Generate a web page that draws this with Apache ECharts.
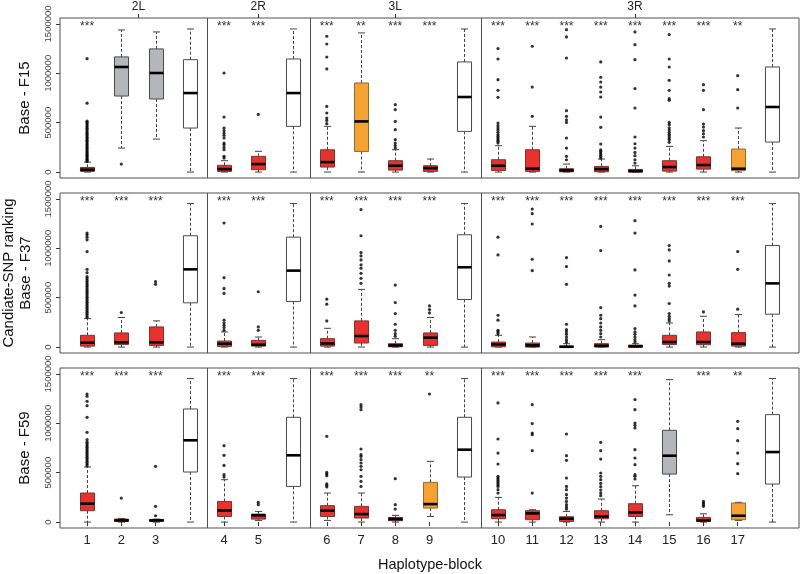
<!DOCTYPE html>
<html>
<head>
<meta charset="utf-8">
<script src="https://cdn.jsdelivr.net/npm/echarts@6/dist/echarts.min.js"></script>
<style>html,body{margin:0;padding:0;background:#fff}#c{width:800px;height:574px}</style>
</head>
<body>
<div id="c"></div>
<script>
// ---------------- data ----------------
const blockLabels = ['1','2','3','','4','5','','6','7','8','9','','10','11','12','13','14','15','16','17',''];
const chromosomes = ['2L','2R','3L','3R'];
const chromSizes = [4, 3, 5, 9];
const rowNames = ['Base - F15','Base - F37','Base - F59'];
const yTicks = [0, 500000, 1000000, 1500000];

// box stats: [lowWhisker, q1, median, q3, highWhisker]
const boxesF15 = [
  [0,7000,24000,47000,101000],[243000,770000,1064000,1166000,1439000],[334000,740000,1003000,1247000,1419000],[0,446000,800000,1138000,1449000],
  [0,7000,30000,68000,115000],[0,24000,81000,159000,210000],[0,463000,800000,1145000,1449000],
  [0,51000,101000,226000,463000],[0,209000,513000,902000,1409000],[0,20000,64000,115000,226000],[0,7000,40000,64000,132000],[0,412000,760000,1115000,1449000],
  [0,17000,64000,125000,267000],[0,7000,34000,226000,463000],[0,3000,17000,34000,81000],[0,3000,30000,57000,132000],[0,0,10000,27000,64000],
  [0,10000,51000,115000,260000],[0,30000,71000,155000,318000],[0,14000,34000,233000,446000],[0,304000,659000,1064000,1449000]
];
const boxesF37 = [
  [0,10000,44000,119000,288000],[0,27000,48000,143000,299000],[0,17000,48000,204000,265000],[0,448000,787000,1127000,1453000],
  [0,7000,34000,61000,153000],[0,10000,24000,68000,102000],[0,462000,774000,1113000,1453000],
  [0,10000,37000,85000,190000],[0,41000,112000,265000,584000],[0,3000,17000,34000,85000],[0,17000,95000,143000,299000],[0,482000,808000,1137000,1453000],
  [0,3000,27000,51000,119000],[0,0,17000,41000,102000],[0,0,3000,10000,34000],[0,0,14000,34000,75000],[0,0,7000,20000,34000],
  [0,27000,51000,119000,244000],[0,24000,51000,153000,312000],[0,10000,34000,146000,329000],[0,333000,645000,1028000,1453000]
];
const boxesF59 = [
  [0,115000,186000,294000,557000],[0,7000,17000,30000,37000],[0,7000,17000,27000,30000],[0,507000,828000,1145000,1453000],
  [0,57000,118000,209000,429000],[17000,30000,68000,81000,108000],[0,361000,676000,1061000,1453000],
  [17000,57000,115000,166000,294000],[0,41000,81000,159000,294000],[0,14000,30000,47000,68000],[57000,142000,182000,402000,615000],[0,456000,733000,1061000,1453000],
  [0,34000,71000,125000,250000],[0,24000,88000,115000,125000],[0,7000,34000,54000,108000],[0,34000,57000,115000,233000],[0,57000,98000,186000,368000],
  [74000,486000,672000,929000,1442000],[0,7000,17000,47000,84000],[17000,24000,64000,193000,200000],[0,385000,709000,1088000,1453000]
];

// fill class per block: r=red, o=orange, g=grey, w=white (genome-wide)
const fillF15 = ['r','g','g','w','r','r','w','r','o','r','r','w','r','r','r','r','r','r','r','o','w'];
const fillF37 = ['r','r','r','w','r','r','w','r','r','r','r','w','r','r','r','r','r','r','r','r','w'];
const fillF59 = ['r','r','r','w','r','r','w','r','r','r','o','w','r','r','r','r','r','g','r','o','w'];

const starsF15 = ['***','','','','***','***','','***','**','***','***','','***','***','***','***','***','***','***','**',''];
const starsF37 = ['***','***','***','','***','***','','***','***','***','***','','***','***','***','***','***','***','***','***',''];
const starsF59 = ['***','***','***','','***','***','','***','***','***','**','','***','***','***','***','***','','***','**',''];

const outliersF15 = [
  [108000,118000,131000,142000,156000,167000,181000,196000,208000,223000,237000,251000,266000,279000,294000,309000,322000,338000,351000,367000,382000,396000,411000,428000,443000,457000,472000,489000,503000,515000,698000,1148000],
  [81000],[],[],
  [142000,159000,226000,250000,277000,294000,345000,372000,395000,420000,446000,557000,1003000],
  [584000],[],
  [490000,523000,547000,598000,665000,1044000,1165000,1297000,1375000],
  [],
  [243000,268000,294000,328000,429000,513000,632000,682000],
  [],[],
  [294000,311000,328000,345000,362000,380000,402000,425000,446000,470000,497000,757000,828000,936000,1145000,1250000],
  [564000,861000,1274000],
  [125000,159000,243000,345000,503000,530000,564000,622000,1155000,1368000,1442000],
  [142000,159000,176000,193000,210000,226000,284000,453000,557000,760000,811000,861000,912000,960000,1115000],
  [91000,125000,166000,199000,243000,287000,355000,649000,845000,1138000,1290000,1419000],
  [301000,328000,345000,365000,382000,402000,426000,449000,480000,503000,726000,743000,828000,929000,1064000,1145000,1392000],
  [355000,388000,419000,456000,486000,632000,828000,885000],
  [649000,834000,976000],
  []
];
const outliersF37 = [
  [301000,318000,335000,352000,369000,386000,403000,420000,437000,454000,471000,488000,505000,522000,539000,556000,573000,590000,607000,624000,641000,658000,675000,695000,713000,753000,787000,967000,1086000,1113000,1137000,1154000],
  [350000],
  [635000,662000],
  [],
  [170000,197000,221000,244000,272000,543000,594000,703000,1256000],
  [170000,204000,560000],
  [],
  [265000,434000,485000],
  [645000,696000,747000,798000,832000,882000,923000,957000,1127000,1392000],
  [109000,136000,170000,231000,339000,451000,628000],
  [346000,380000,417000],
  [],
  [136000,153000,170000,272000,322000,933000,1113000],
  [774000,889000,1246000,1351000,1398000],
  [51000,75000,102000,129000,153000,176000,231000,635000,815000,906000],
  [102000,136000,170000,204000,244000,288000,322000,400000,977000,1222000],
  [51000,75000,102000,129000,153000,187000,417000,526000,781000,1154000,1280000],
  [265000,288000,312000,339000,441000,618000,645000,730000,872000,984000,1028000],
  [356000],
  [384000,787000,967000],
  []
];
const outliersF59 = [
  [571000,588000,605000,622000,639000,656000,673000,690000,707000,724000,741000,758000,775000,792000,809000,834000,909000,1061000,1179000,1223000,1274000,1297000],
  [243000],
  [64000,159000,564000],
  [],
  [456000,480000,574000,676000,774000],
  [176000,199000],
  [],
  [355000,372000,388000,470000,486000,503000,868000],
  [361000,412000,463000,530000,564000,598000,632000,665000,682000,740000,1138000,1165000,1189000],
  [132000,176000,439000],
  [1297000],
  [],
  [294000,328000,361000,378000,395000,412000,429000,446000,463000,588000,699000,841000,1206000],
  [294000,723000,885000,902000,997000,1189000],
  [132000,152000,176000,209000,243000,277000,328000,361000,446000,625000,672000,892000],
  [267000,294000,324000,358000,392000,429000,463000,497000,638000,723000,807000],
  [436000,463000,480000,581000,649000,733000,953000,980000,1003000,1138000,1240000],
  [],
  [159000,176000,193000,209000],
  [490000,591000,699000,824000,946000,1020000],
  []
];

// ---------------- helpers ----------------
const rows = [
  {boxes: boxesF15, fill: fillF15, stars: starsF15, outliers: outliersF15},
  {boxes: boxesF37, fill: fillF37, stars: starsF37, outliers: outliersF37},
  {boxes: boxesF59, fill: fillF59, stars: starsF59, outliers: outliersF59}
];
const fillColors = {r: '#E8322E', o: '#F5A232', g: '#B4B7BA', w: '#FFFFFF'};
const borderColors = {r: '#7a3330', o: '#8a6a3a', g: '#4a4a4a', w: '#4a4a4a'};
const positions = blockLabels.map((_, i) => i + 1);
const XMIN = 0.21, XMAX = 21.79, YMIN = -60000, YMAX = 1560000;

// separators and chromosome centres derived from group sizes
const separators = [];
const chromCenters = [];
let acc = 0;
chromSizes.forEach((s, i) => {
  chromCenters.push(acc + (s + 1) / 2);
  acc += s;
  if (i < chromSizes.length - 1) separators.push(acc + 0.5);
});
const numberedPositions = positions.filter((p, i) => blockLabels[i] !== '');

const font = 'Liberation Sans, Arial, sans-serif';
const gridTops = [18, 193, 368];
const gridH = 160;

const grids = [], xAxes = [], yAxes = [], series = [];
rows.forEach((row, r) => {
  grids.push({left: 60, width: 739, top: gridTops[r], height: gridH, show: true, borderColor: '#505050', borderWidth: 1, containLabel: false});
  const isBottom = r === 2;
  xAxes.push({
    gridIndex: r, type: 'value', min: XMIN, max: XMAX, position: 'bottom',
    axisLine: {show: false}, splitLine: {show: false},
    axisTick: {show: isBottom, length: 4, lineStyle: {color: '#333'}, customValues: numberedPositions},
    axisLabel: {show: isBottom, customValues: numberedPositions, margin: 6, fontSize: 13, color: '#222', fontFamily: font,
      formatter: v => blockLabels[Math.round(v) - 1]}
  });
  yAxes.push({
    gridIndex: r, type: 'value', min: YMIN, max: YMAX,
    axisLine: {show: false}, splitLine: {show: false},
    axisTick: {show: true, length: 4, lineStyle: {color: '#333'}, customValues: yTicks},
    axisLabel: {show: true, customValues: yTicks, rotate: 90, margin: 7, fontSize: 9.5, color: '#444', fontFamily: font,
      formatter: v => String(v)}
  });
  // separators
  series.push({
    type: 'custom', xAxisIndex: r, yAxisIndex: r, silent: true, z: 1,
    data: separators.map(s => [s]),
    renderItem: (params, api) => {
      const x = api.value(0);
      const p1 = api.coord([x, YMIN]), p2 = api.coord([x, YMAX]);
      return {type: 'line', shape: {x1: Math.round(p1[0]) + 0.5, y1: p1[1], x2: Math.round(p2[0]) + 0.5, y2: p2[1]},
        style: {stroke: '#505050', lineWidth: 1}};
    }
  });
  // boxes
  series.push({
    type: 'custom', xAxisIndex: r, yAxisIndex: r, silent: true, z: 3,
    data: row.boxes.map((b, i) => [positions[i]].concat(b)),
    renderItem: (params, api) => {
      const x = api.value(0);
      const lo = api.coord([x, api.value(1)]), q1 = api.coord([x, api.value(2)]),
            md = api.coord([x, api.value(3)]), q3 = api.coord([x, api.value(4)]), hi = api.coord([x, api.value(5)]);
      const w = api.size([0.41, 0])[0];
      const cw = w / 2;
      const cx = Math.round(lo[0]) + 0.5;
      const cls = row.fill[params.dataIndex];
      const wl = {stroke: '#444', lineWidth: 1, lineDash: [3, 2]};
      const cap = {stroke: '#444', lineWidth: 1};
      return {type: 'group', children: [
        {type: 'line', shape: {x1: cx, y1: q3[1], x2: cx, y2: hi[1]}, style: wl},
        {type: 'line', shape: {x1: cx, y1: q1[1], x2: cx, y2: lo[1]}, style: wl},
        {type: 'line', shape: {x1: cx - cw / 2, y1: hi[1], x2: cx + cw / 2, y2: hi[1]}, style: cap},
        {type: 'line', shape: {x1: cx - cw / 2, y1: lo[1], x2: cx + cw / 2, y2: lo[1]}, style: cap},
        {type: 'rect', shape: {x: cx - w / 2, y: q3[1], width: w, height: Math.max(q1[1] - q3[1], 1)},
          style: {fill: fillColors[cls], stroke: borderColors[cls], lineWidth: 1}},
        {type: 'line', shape: {x1: cx - w / 2, y1: md[1], x2: cx + w / 2, y2: md[1]}, style: {stroke: '#000', lineWidth: 2.6}}
      ]};
    }
  });
  // outliers
  const pts = [];
  row.outliers.forEach((arr, i) => arr.forEach(v => pts.push([positions[i], v])));
  series.push({
    type: 'scatter', xAxisIndex: r, yAxisIndex: r, silent: true, z: 4,
    symbol: 'circle', symbolSize: 3.2, itemStyle: {color: '#000'}, data: pts
  });
  // significance stars
  series.push({
    type: 'custom', xAxisIndex: r, yAxisIndex: r, silent: true, z: 5,
    data: row.stars.map((s, i) => [positions[i], 1500000]),
    renderItem: (params, api) => {
      const p = api.coord([api.value(0), api.value(1)]);
      return {type: 'text', x: p[0], y: p[1] + 3,
        style: {text: row.stars[params.dataIndex], fontSize: 12, fill: '#333', align: 'center', verticalAlign: 'middle', fontFamily: font}};
    }
  });
});

// top axis with chromosome names
xAxes.push({
  gridIndex: 0, type: 'value', min: XMIN, max: XMAX, position: 'top',
  axisLine: {show: false}, splitLine: {show: false},
  axisTick: {show: true, length: 4, lineStyle: {color: '#333'}, customValues: chromCenters},
  axisLabel: {show: true, customValues: chromCenters, margin: 5, fontSize: 12, color: '#222', fontFamily: font,
    formatter: v => chromosomes[chromCenters.findIndex(c => Math.abs(c - v) < 1e-6)]}
});

const titleStyle = (text, x, y, size) => ({
  type: 'text', x: x, y: y, rotation: Math.PI / 2,
  style: {text: text, fontSize: size, fill: '#111', align: 'center', verticalAlign: 'middle', fontFamily: font}
});

const chart = echarts.init(document.getElementById('c'), null, {renderer: 'canvas'});
chart.setOption({
  animation: false,
  backgroundColor: '#fff',
  grid: grids,
  xAxis: xAxes,
  yAxis: yAxes,
  series: series,
  graphic: [
    titleStyle(rowNames[0], 25, gridTops[0] + gridH / 2, 15),
    titleStyle('Candiate-SNP ranking', 9, gridTops[1] + gridH / 2, 15),
    titleStyle(rowNames[1], 26, gridTops[1] + gridH / 2, 15),
    titleStyle(rowNames[2], 25, gridTops[2] + gridH / 2, 15),
    {type: 'text', x: 430, y: 565, style: {text: 'Haplotype-block', fontSize: 14.5, fill: '#111', align: 'center', verticalAlign: 'middle', fontFamily: font}}
  ]
});
</script>
</body>
</html>
